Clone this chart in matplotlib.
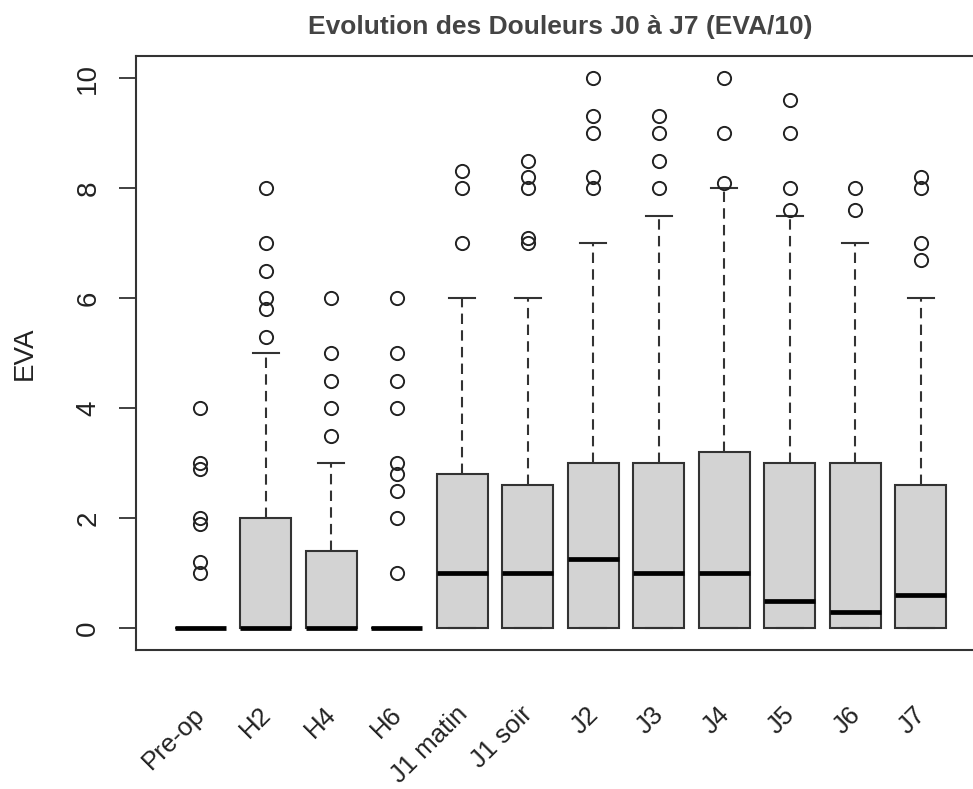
import matplotlib.pyplot as plt
from matplotlib.transforms import blended_transform_factory

plt.rcParams['font.family'] = ['Liberation Sans', 'DejaVu Sans']

labels = ["Pre-op", "H2", "H4", "H6", "J1 matin", "J1 soir",
          "J2", "J3", "J4", "J5", "J6", "J7"]
q1 = [0, 0, 0, 0, 0, 0, 0, 0, 0, 0, 0, 0]
med = [0, 0, 0, 0, 1, 1, 1.25, 1, 1, 0.5, 0.3, 0.6]
q3 = [0, 2, 1.4, 0, 2.8, 2.6, 3, 3, 3.2, 3, 3, 2.6]
whis_lo = [0, 0, 0, 0, 0, 0, 0, 0, 0, 0, 0, 0]
whis_hi = [0, 5, 3, 0, 6, 6, 7, 7.5, 8, 7.5, 7, 6]
outliers = [
    [4, 3, 2.9, 2, 1.9, 1.2, 1.0],
    [8, 7, 6.5, 6, 5.8, 5.3],
    [6, 5, 4.5, 4, 3.5],
    [6, 5, 4.5, 4, 3, 2.8, 2.5, 2, 1],
    [8.3, 8, 7],
    [8.5, 8.2, 8, 7.1, 7],
    [10, 9.3, 9, 8.2, 8],
    [9.3, 9, 8.5, 8],
    [10, 9, 8.1],
    [9.6, 9, 8, 7.6],
    [8, 7.6],
    [8.2, 8, 7, 6.7],
]

stats = []
for i in range(len(labels)):
    stats.append(dict(med=med[i], q1=q1[i], q3=q3[i], whislo=whis_lo[i],
                      whishi=whis_hi[i], fliers=outliers[i], label=labels[i]))

fig = plt.figure(figsize=(9.73, 7.89), dpi=100)
ax = fig.add_axes([136 / 973, 139 / 789, 849 / 973, 594 / 789])

edge = '#333333'
ax.bxp(stats, positions=range(1, 13), widths=0.78, capwidths=0.4,
       patch_artist=True, showfliers=True,
       boxprops=dict(facecolor='#d3d3d3', edgecolor=edge, linewidth=1.5),
       medianprops=dict(color='black', linewidth=3.4, solid_capstyle='butt'),
       whiskerprops=dict(color=edge, linewidth=1.5, linestyle=(0, (5, 3))),
       capprops=dict(color=edge, linewidth=1.5),
       flierprops=dict(marker='o', markerfacecolor='none', markeredgecolor='#222222',
                       markersize=9.5, markeredgewidth=1.4))

ax.set_xlim(0.02, 12.98)
ax.set_ylim(-0.4, 10.4)
ax.set_yticks([0, 2, 4, 6, 8, 10])
ax.set_xticks([])
for sp in ax.spines.values():
    sp.set_color(edge)
    sp.set_linewidth(1.5)
ax.tick_params(axis='y', length=12, width=1.3, color=edge, pad=13, labelsize=20,
               labelcolor='#222222')
for t in ax.get_yticklabels():
    t.set_rotation(90)
    t.set_va('center')

ax.set_ylabel("EVA", fontsize=20, color='#222222', labelpad=27)
ax.set_title("Evolution des Douleurs J0 à J7 (EVA/10)", fontsize=19,
             fontweight='bold', color='#444444', pad=16)

# rotated category labels under the boxes
trans = blended_transform_factory(ax.transData, ax.transAxes)
for i, lab in enumerate(labels):
    ax.text(i + 1.02, -0.102, lab, transform=trans, rotation=45,
            rotation_mode='anchor', ha='right', va='center', fontsize=18.5,
            color='#222222', clip_on=False)

fig.savefig("out.png", dpi=100)
